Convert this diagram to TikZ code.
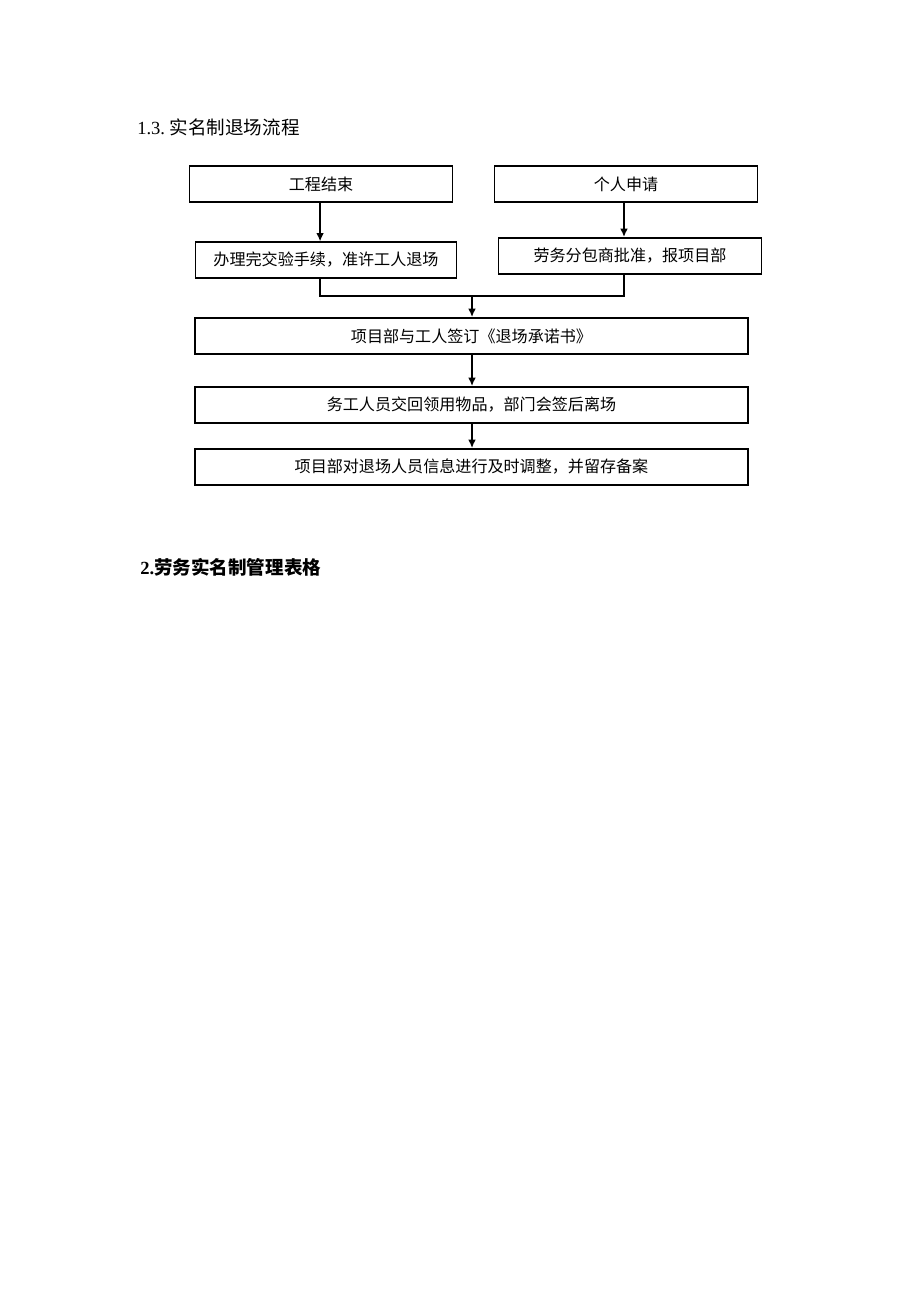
\documentclass[tikz,border=0pt]{standalone}
\usepackage{fontspec}
\setmainfont{Liberation Serif}
\newfontfamily\cjk{Noto Sans CJK SC}
\usetikzlibrary{arrows.meta,arrows}

\begin{document}
\begin{tikzpicture}
[x=0.647pt,y=-0.647pt,
block/.style ={rectangle, draw, line width=1pt, inner sep=0pt,
minimum height=23.5pt, font=\cjk\fontsize{10.4}{12}\selectfont},
line/.style ={draw, line width=1.2pt, -{Latex[length=5.4pt,width=5pt]}},
heading/.style ={anchor=west, inner sep=0pt, font=\fontsize{12}{14}\selectfont}]
\useasboundingbox (0,0) rectangle (920,1302);
% title
\node [heading] (title) at (137,127) {1.3.\ {\cjk 实名制退场流程}};
% row 1 has two starting boxes
\node [block, minimum width=170pt] (finish) at (321,184) {工程结束};
\node [block, minimum width=170pt] (apply)  at (626,184) {个人申请};
% row 2
\node [block, minimum width=169pt, minimum height=23pt] (handover) at (326,260) {办理完交验手续，准许工人退场};
\node [block, minimum width=170pt] (approve) at (630,256) {劳务分包商批准，报项目部};
% rows 3 to 5 are wide
\node [block, minimum width=358pt] (promise) at (471.5,336) {项目部与工人签订《退场承诺书》};
\node [block, minimum width=358pt] (returns) at (471.5,405) {务工人员交回领用物品，部门会签后离场};
\node [block, minimum width=358pt] (archive) at (471.5,467) {项目部对退场人员信息进行及时调整，并留存备案};
\coordinate (join) at (472,296.2);
\begin{scope}[every path/.style=line]
\path ([xshift=-0.6pt]finish.south) -- ([xshift=-0.6pt]finish.south |- handover.north);
\path ([xshift=-1.3pt]apply.south) -- ([xshift=-1.3pt]apply.south |- approve.north);
\path (join) -- (join |- promise.north);
\path (join |- promise.south) -- (join |- returns.north);
\path (join |- returns.south) -- (join |- archive.north);
\end{scope}
\draw [line width=1.2pt] ([xshift=-0.6pt]finish.south |- handover.south) |- (join) -| ([xshift=-1.3pt]apply.south |- approve.south);
% second heading
\node [heading, font=\bfseries\fontsize{12}{14}\selectfont] (table) at (140,567) {2.{\cjk 劳务实名制管理表格}};
\end{tikzpicture}
\end{document}
